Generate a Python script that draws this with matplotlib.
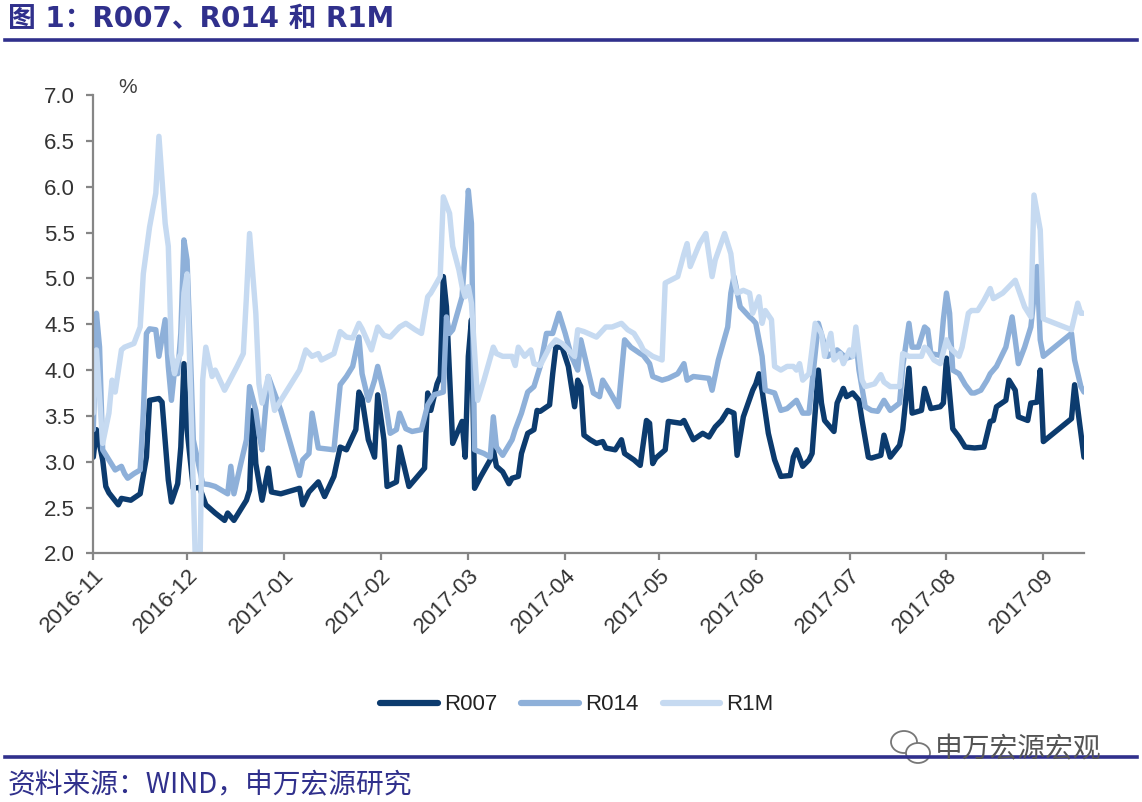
import matplotlib
matplotlib.use('Agg')
import matplotlib.pyplot as plt
import matplotlib.dates as mdates
import pandas as pd
from matplotlib.lines import Line2D
from matplotlib.patches import Ellipse
from matplotlib.ticker import FormatStrFormatter, MultipleLocator

plt.rcParams['font.family'] = ['Liberation Sans', 'Noto Sans CJK SC', 'DejaVu Sans']

# ----------------------------------------------------------------------------
# Data
# ----------------------------------------------------------------------------

r007_dates = [
    '2016-11-01', '2016-11-02', '2016-11-04', '2016-11-05', '2016-11-06', '2016-11-09',
    '2016-11-10', '2016-11-13', '2016-11-16', '2016-11-18', '2016-11-19', '2016-11-22',
    '2016-11-23', '2016-11-25', '2016-11-26', '2016-11-28', '2016-11-29', '2016-11-30',
    '2016-12-01', '2016-12-03', '2016-12-05', '2016-12-07', '2016-12-10', '2016-12-13',
    '2016-12-14', '2016-12-16', '2016-12-18', '2016-12-20', '2016-12-21', '2016-12-22',
    '2016-12-23', '2016-12-25', '2016-12-27', '2016-12-28', '2016-12-31', '2017-01-06',
    '2017-01-07', '2017-01-09', '2017-01-12', '2017-01-14', '2017-01-17', '2017-01-19',
    '2017-01-21', '2017-01-24', '2017-01-25', '2017-01-26', '2017-01-28', '2017-01-30',
    '2017-01-31', '2017-02-02', '2017-02-03', '2017-02-06', '2017-02-07', '2017-02-10',
    '2017-02-15', '2017-02-16', '2017-02-17', '2017-02-19', '2017-02-20', '2017-02-21',
    '2017-02-22', '2017-02-24', '2017-02-27', '2017-02-28', '2017-03-01', '2017-03-02',
    '2017-03-03', '2017-03-05', '2017-03-08', '2017-03-09', '2017-03-10', '2017-03-12',
    '2017-03-14', '2017-03-15', '2017-03-17', '2017-03-18', '2017-03-20', '2017-03-22',
    '2017-03-23', '2017-03-24', '2017-03-27', '2017-03-28', '2017-03-29', '2017-03-31',
    '2017-04-02', '2017-04-04', '2017-04-05', '2017-04-06', '2017-04-07', '2017-04-09',
    '2017-04-11', '2017-04-13', '2017-04-14', '2017-04-17', '2017-04-19', '2017-04-20',
    '2017-04-23', '2017-04-25', '2017-04-27', '2017-04-28', '2017-04-29', '2017-04-30',
    '2017-05-03', '2017-05-04', '2017-05-08', '2017-05-09', '2017-05-12', '2017-05-15',
    '2017-05-17', '2017-05-19', '2017-05-21', '2017-05-23', '2017-05-25', '2017-05-26',
    '2017-05-28', '2017-05-31', '2017-06-01', '2017-06-02', '2017-06-03', '2017-06-05',
    '2017-06-07', '2017-06-09', '2017-06-12', '2017-06-13', '2017-06-14', '2017-06-16',
    '2017-06-18', '2017-06-19', '2017-06-21', '2017-06-22', '2017-06-23', '2017-06-26',
    '2017-06-27', '2017-06-29', '2017-06-30', '2017-07-02', '2017-07-04', '2017-07-05',
    '2017-07-07', '2017-07-08', '2017-07-11', '2017-07-12', '2017-07-14', '2017-07-17',
    '2017-07-18', '2017-07-20', '2017-07-21', '2017-07-24', '2017-07-25', '2017-07-27',
    '2017-07-30', '2017-07-31', '2017-08-01', '2017-08-03', '2017-08-05', '2017-08-07',
    '2017-08-10', '2017-08-13', '2017-08-15', '2017-08-16', '2017-08-17', '2017-08-20',
    '2017-08-21', '2017-08-23', '2017-08-24', '2017-08-27', '2017-08-28', '2017-08-30',
    '2017-08-31', '2017-09-01', '2017-09-10', '2017-09-11', '2017-09-13', '2017-09-14',
]
r007 = [
    3.05, 3.35, 3.02, 2.73, 2.66, 2.53,
    2.60, 2.58, 2.65, 3.05, 3.67, 3.69,
    3.65, 2.80, 2.56, 2.76, 3.16, 4.07,
    3.35, 2.71, 2.72, 2.53, 2.44, 2.36,
    2.44, 2.36, 2.47, 2.58, 2.69, 3.56,
    2.98, 2.58, 2.93, 2.67, 2.65, 2.71,
    2.53, 2.67, 2.78, 2.62, 2.84, 3.16,
    3.13, 3.35, 3.76, 3.69, 3.24, 3.05,
    3.73, 3.24, 2.73, 2.78, 3.16, 2.73,
    2.93, 3.75, 3.56, 3.85, 3.93, 5.02,
    4.69, 3.20, 3.44, 3.05, 4.15, 4.55,
    2.71, 2.84, 3.02, 3.13, 2.95, 2.89,
    2.76, 2.82, 2.84, 3.09, 3.31, 3.35,
    3.56, 3.55, 3.62, 3.96, 4.25, 4.25,
    4.04, 3.60, 3.89, 3.82, 3.29, 3.24,
    3.20, 3.22, 3.15, 3.13, 3.24, 3.09,
    3.02, 2.96, 3.45, 3.42, 2.98, 3.04,
    3.13, 3.44, 3.42, 3.45, 3.24, 3.31,
    3.27, 3.38, 3.45, 3.56, 3.53, 3.07,
    3.49, 3.78, 3.85, 3.96, 3.78, 3.31,
    3.02, 2.84, 2.85, 3.05, 3.13, 2.95,
    3.02, 3.09, 4.00, 3.64, 3.45, 3.33,
    3.64, 3.80, 3.71, 3.75, 3.67, 3.45,
    3.05, 3.04, 3.07, 3.29, 3.05, 3.18,
    3.35, 4.02, 3.53, 3.56, 3.80, 3.58,
    3.60, 3.64, 4.13, 3.36, 3.27, 3.16,
    3.15, 3.16, 3.44, 3.45, 3.60, 3.67,
    3.89, 3.78, 3.49, 3.45, 3.64, 3.65,
    4.00, 3.22, 3.47, 3.84, 3.31, 3.05,
]

r014_dates = [
    '2016-11-01', '2016-11-02', '2016-11-03', '2016-11-04', '2016-11-06', '2016-11-08',
    '2016-11-10', '2016-11-11', '2016-11-12', '2016-11-14', '2016-11-16', '2016-11-17',
    '2016-11-18', '2016-11-19', '2016-11-21', '2016-11-22', '2016-11-24', '2016-11-25',
    '2016-11-26', '2016-11-27', '2016-11-28', '2016-11-29', '2016-11-30', '2016-12-01',
    '2016-12-02', '2016-12-03', '2016-12-06', '2016-12-08', '2016-12-10', '2016-12-12',
    '2016-12-14', '2016-12-15', '2016-12-16', '2016-12-18', '2016-12-20', '2016-12-21',
    '2016-12-23', '2016-12-24', '2016-12-25', '2016-12-27', '2016-12-31', '2017-01-06',
    '2017-01-07', '2017-01-09', '2017-01-10', '2017-01-12', '2017-01-17', '2017-01-19',
    '2017-01-21', '2017-01-23', '2017-01-25', '2017-01-26', '2017-01-28', '2017-01-30',
    '2017-01-31', '2017-02-02', '2017-02-04', '2017-02-06', '2017-02-07', '2017-02-09',
    '2017-02-11', '2017-02-14', '2017-02-16', '2017-02-18', '2017-02-21', '2017-02-22',
    '2017-02-23', '2017-02-24', '2017-02-27', '2017-02-28', '2017-03-01', '2017-03-02',
    '2017-03-03', '2017-03-06', '2017-03-08', '2017-03-09', '2017-03-10', '2017-03-12',
    '2017-03-15', '2017-03-16', '2017-03-18', '2017-03-20', '2017-03-22', '2017-03-24',
    '2017-03-26', '2017-03-28', '2017-03-30', '2017-04-01', '2017-04-03', '2017-04-05',
    '2017-04-06', '2017-04-08', '2017-04-10', '2017-04-12', '2017-04-13', '2017-04-15',
    '2017-04-18', '2017-04-20', '2017-04-22', '2017-04-25', '2017-04-26', '2017-04-28',
    '2017-04-29', '2017-05-02', '2017-05-04', '2017-05-07', '2017-05-09', '2017-05-10',
    '2017-05-12', '2017-05-17', '2017-05-18', '2017-05-20', '2017-05-23', '2017-05-24',
    '2017-05-25', '2017-05-27', '2017-05-30', '2017-05-31', '2017-06-01', '2017-06-03',
    '2017-06-04', '2017-06-07', '2017-06-09', '2017-06-11', '2017-06-14', '2017-06-16',
    '2017-06-18', '2017-06-21', '2017-06-24', '2017-06-27', '2017-06-30', '2017-07-02',
    '2017-07-03', '2017-07-04', '2017-07-06', '2017-07-08', '2017-07-10', '2017-07-12',
    '2017-07-14', '2017-07-17', '2017-07-18', '2017-07-20', '2017-07-21', '2017-07-23',
    '2017-07-25', '2017-07-26', '2017-07-27', '2017-07-30', '2017-07-31', '2017-08-01',
    '2017-08-02', '2017-08-03', '2017-08-05', '2017-08-07', '2017-08-09', '2017-08-10',
    '2017-08-12', '2017-08-14', '2017-08-15', '2017-08-17', '2017-08-20', '2017-08-22',
    '2017-08-23', '2017-08-24', '2017-08-26', '2017-08-28', '2017-08-29', '2017-08-30',
    '2017-08-31', '2017-09-01', '2017-09-10', '2017-09-11', '2017-09-13', '2017-09-14',
]
r014 = [
    3.35, 4.62, 4.25, 3.13, 3.02, 2.91,
    2.95, 2.87, 2.82, 2.87, 2.91, 3.53,
    4.40, 4.45, 4.44, 4.15, 4.55, 4.04,
    3.67, 4.00, 3.96, 4.40, 5.42, 5.20,
    4.25, 3.24, 2.76, 2.75, 2.73, 2.69,
    2.65, 2.95, 2.65, 2.95, 3.24, 3.82,
    3.56, 3.31, 3.13, 3.93, 3.56, 2.85,
    3.02, 3.09, 3.53, 3.15, 3.13, 3.84,
    3.93, 4.04, 4.36, 3.96, 3.67, 3.89,
    4.04, 3.75, 3.31, 3.35, 3.53, 3.36,
    3.33, 3.35, 3.62, 3.73, 3.76, 4.58,
    4.40, 4.44, 4.80, 5.31, 5.96, 5.60,
    3.13, 3.09, 3.05, 3.49, 3.16, 3.07,
    3.24, 3.35, 3.53, 3.76, 3.82, 4.04,
    4.40, 4.40, 4.62, 4.40, 4.15, 4.00,
    4.33, 4.04, 3.75, 3.71, 3.89, 3.78,
    3.60, 4.33, 4.25, 4.18, 4.16, 4.07,
    3.93, 3.89, 3.91, 3.96, 4.07, 3.89,
    3.93, 3.91, 3.78, 4.11, 4.47, 4.84,
    5.02, 4.69, 4.58, 4.55, 4.51, 4.15,
    3.78, 3.75, 3.56, 3.58, 3.67, 3.53,
    3.53, 4.51, 4.15, 4.22, 4.13, 4.15,
    4.33, 4.00, 3.60, 3.56, 3.55, 3.67,
    3.56, 3.64, 4.04, 4.51, 4.25, 4.25,
    4.47, 4.44, 4.18, 4.16, 4.55, 4.84,
    4.62, 4.00, 3.96, 3.84, 3.75, 3.75,
    3.78, 3.89, 3.96, 4.04, 4.25, 4.58,
    4.33, 4.07, 4.25, 4.47, 4.80, 5.13,
    4.33, 4.15, 4.40, 4.11, 3.82, 3.76,
]

r1m_dates = [
    '2016-11-01', '2016-11-02', '2016-11-04', '2016-11-06', '2016-11-07', '2016-11-08',
    '2016-11-10', '2016-11-11', '2016-11-14', '2016-11-16', '2016-11-17', '2016-11-19',
    '2016-11-21', '2016-11-22', '2016-11-24', '2016-11-25', '2016-11-26', '2016-11-27',
    '2016-11-28', '2016-11-29', '2016-11-30', '2016-12-01', '2016-12-02', '2016-12-04',
    '2016-12-05', '2016-12-06', '2016-12-07', '2016-12-09', '2016-12-10', '2016-12-13',
    '2016-12-17', '2016-12-19', '2016-12-20', '2016-12-21', '2016-12-23', '2016-12-24',
    '2016-12-25', '2016-12-27', '2016-12-29', '2016-12-31', '2017-01-06', '2017-01-08',
    '2017-01-10', '2017-01-12', '2017-01-13', '2017-01-17', '2017-01-19', '2017-01-21',
    '2017-01-23', '2017-01-25', '2017-01-26', '2017-01-29', '2017-01-31', '2017-02-02',
    '2017-02-04', '2017-02-07', '2017-02-09', '2017-02-12', '2017-02-14', '2017-02-16',
    '2017-02-17', '2017-02-20', '2017-02-21', '2017-02-23', '2017-02-24', '2017-02-26',
    '2017-02-27', '2017-02-28', '2017-03-01', '2017-03-02', '2017-03-04', '2017-03-06',
    '2017-03-09', '2017-03-10', '2017-03-12', '2017-03-15', '2017-03-16', '2017-03-17',
    '2017-03-19', '2017-03-21', '2017-03-22', '2017-03-24', '2017-03-27', '2017-03-29',
    '2017-03-31', '2017-04-02', '2017-04-04', '2017-04-05', '2017-04-07', '2017-04-11',
    '2017-04-14', '2017-04-16', '2017-04-19', '2017-04-21', '2017-04-23', '2017-04-25',
    '2017-04-26', '2017-04-29', '2017-05-02', '2017-05-03', '2017-05-07', '2017-05-09',
    '2017-05-10', '2017-05-11', '2017-05-14', '2017-05-16', '2017-05-18', '2017-05-19',
    '2017-05-22', '2017-05-24', '2017-05-25', '2017-05-26', '2017-05-28', '2017-05-30',
    '2017-05-31', '2017-06-02', '2017-06-03', '2017-06-04', '2017-06-06', '2017-06-07',
    '2017-06-09', '2017-06-11', '2017-06-13', '2017-06-14', '2017-06-15', '2017-06-16',
    '2017-06-18', '2017-06-20', '2017-06-22', '2017-06-23', '2017-06-25', '2017-06-26',
    '2017-06-28', '2017-06-29', '2017-07-01', '2017-07-02', '2017-07-03', '2017-07-05',
    '2017-07-06', '2017-07-09', '2017-07-11', '2017-07-12', '2017-07-14', '2017-07-17',
    '2017-07-18', '2017-07-20', '2017-07-24', '2017-07-25', '2017-07-26', '2017-07-28',
    '2017-07-30', '2017-08-01', '2017-08-02', '2017-08-05', '2017-08-06', '2017-08-08',
    '2017-08-09', '2017-08-11', '2017-08-13', '2017-08-15', '2017-08-16', '2017-08-19',
    '2017-08-23', '2017-08-26', '2017-08-28', '2017-08-29', '2017-08-31', '2017-09-01',
    '2017-09-10', '2017-09-12', '2017-09-13', '2017-09-14',
]
r1m = [
    3.53, 4.22, 3.20, 3.53, 3.89, 3.76,
    4.22, 4.25, 4.29, 4.47, 5.05, 5.56,
    5.93, 6.55, 5.60, 5.35, 4.18, 3.96,
    4.11, 4.18, 4.84, 5.05, 3.90, 1.50,
    1.50, 3.89, 4.25, 3.93, 4.00, 3.78,
    4.04, 4.18, 4.80, 5.49, 4.62, 3.85,
    3.64, 3.93, 3.56, 3.67, 4.00, 4.22,
    4.15, 4.18, 4.11, 4.18, 4.42, 4.36,
    4.35, 4.51, 4.45, 4.22, 4.47, 4.38,
    4.36, 4.47, 4.51, 4.44, 4.40, 4.80,
    4.84, 5.02, 5.89, 5.71, 5.35, 5.09,
    4.91, 4.80, 4.91, 4.73, 3.67, 3.89,
    4.25, 4.18, 4.15, 4.15, 4.05, 4.25,
    4.15, 4.22, 4.07, 4.05, 4.25, 4.33,
    4.29, 4.22, 4.15, 4.44, 4.42, 4.36,
    4.47, 4.47, 4.51, 4.44, 4.40, 4.29,
    4.22, 4.15, 4.11, 4.95, 5.02, 5.27,
    5.38, 5.13, 5.38, 5.49, 5.02, 5.20,
    5.49, 5.27, 4.98, 4.84, 4.87, 4.84,
    4.62, 4.80, 4.51, 4.65, 4.55, 4.04,
    4.00, 4.04, 4.04, 4.00, 4.07, 3.89,
    3.96, 4.51, 4.40, 4.15, 4.40, 4.11,
    4.18, 4.07, 4.22, 4.15, 4.47, 3.89,
    3.82, 3.85, 3.95, 3.87, 3.82, 3.82,
    4.18, 4.15, 4.15, 4.25, 4.22, 4.11,
    4.07, 4.33, 4.25, 4.15, 4.25, 4.62,
    4.65, 4.65, 4.76, 4.89, 4.78, 4.84,
    4.98, 4.69, 4.58, 5.91, 5.53, 4.56,
    4.44, 4.73, 4.62, 4.62,
]

series_names = ['R007', 'R014', 'R1M']
series_colors = ['#0C3B6E', '#8EB0D9', '#C6DAF1']

TITLE = '图 1：R007、R014 和 R1M'
SOURCE = '资料来源：WIND，申万宏源研究'
BRAND = '申万宏源宏观'
NAVY = '#30308C'
GREY = '#868686'

# ----------------------------------------------------------------------------
# Figure
# ----------------------------------------------------------------------------

fig = plt.figure(figsize=(11.42, 8.02), dpi=100)
ax = fig.add_axes([0.0817, 0.310, 0.8675, 0.5714])

data = [(r007_dates, r007), (r014_dates, r014), (r1m_dates, r1m)]
for (d, v), name, c in zip(data, series_names, series_colors):
    ax.plot(pd.to_datetime(d), v, color=c, lw=3.9, label=name,
            solid_joinstyle='round', solid_capstyle='round')

ax.set_ylim(2.0, 7.0)
ax.set_xlim(pd.Timestamp('2016-11-01'), pd.Timestamp('2017-09-14'))
ax.yaxis.set_major_locator(MultipleLocator(0.5))
ax.yaxis.set_major_formatter(FormatStrFormatter('%.1f'))
ax.xaxis.set_major_locator(mdates.MonthLocator())
ax.xaxis.set_major_formatter(mdates.DateFormatter('%Y-%m'))

for side in ('top', 'right'):
    ax.spines[side].set_visible(False)
for side in ('left', 'bottom'):
    ax.spines[side].set_color(GREY)
    ax.spines[side].set_linewidth(1.6)

ax.tick_params(axis='both', direction='out', length=5, width=1.6, color=GREY,
               labelsize=16, labelcolor='#333333')
ax.tick_params(axis='y', pad=8)
for lbl in ax.get_xticklabels():
    lbl.set_rotation(45)
    lbl.set_ha('right')
    lbl.set_va('top')
    lbl.set_rotation_mode('anchor')

fig.text(0.112, 0.8915, '%', fontsize=15, color='#404040', ha='center', va='center')

leg = fig.legend(loc='center', bbox_to_anchor=(0.505, 0.121), ncol=3, frameon=False,
                 fontsize=16, handlelength=2.6, handletextpad=0.25, columnspacing=1.1)
for h in leg.get_lines():
    h.set_linewidth(4.5)
for t in leg.get_texts():
    t.set_family(['Liberation Sans Narrow', 'Liberation Sans'])
    t.set_color('#222222')

# header / footer
fig.text(0.007, 1 - 19 / 802, TITLE, fontsize=20, fontweight='bold', color=NAVY,
         ha='left', va='center', family=['DejaVu Sans', 'Noto Sans CJK SC'])
fig.add_artist(Line2D([5 / 1142, 1137 / 1142], [1 - 40 / 802] * 2, color=NAVY, lw=2.6))
fig.add_artist(Line2D([5 / 1142, 1137 / 1142], [1 - 757 / 802] * 2, color=NAVY, lw=2.6))
fig.text(0.007, 1 - 785 / 802, SOURCE, fontsize=20, color=NAVY, ha='left', va='center',
         family=['Noto Sans CJK SC', 'Liberation Sans'])

# watermark
fig.add_artist(Ellipse((904 / 1142, 1 - 742 / 802), 26 / 1142, 22 / 802, fill=False,
                       ec='#777777', lw=1.3, transform=fig.transFigure))
fig.add_artist(Ellipse((918 / 1142, 1 - 753 / 802), 24 / 1142, 20 / 802, fc='white',
                       ec='#777777', lw=1.3, transform=fig.transFigure))
fig.text(935 / 1142, 1 - 749 / 802, BRAND, fontsize=20, color='#555555', ha='left',
         va='center', family=['Noto Sans CJK SC'])

fig.savefig('out.png', dpi=100)
